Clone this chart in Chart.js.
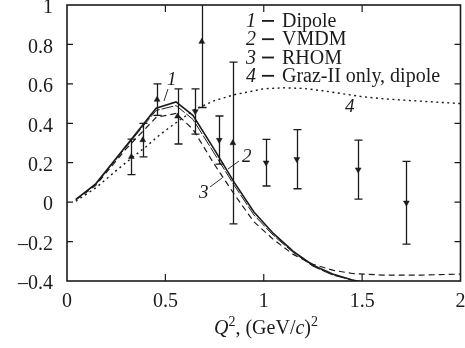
<!DOCTYPE html>
<html>
<head>
<meta charset="utf-8">
<script src="https://cdn.jsdelivr.net/npm/chart.js@4.4.0/dist/chart.umd.min.js"></script>
<style>
  html, body { margin: 0; padding: 0; background: #fff; }
  canvas { display: block; }
</style>
</head>
<body>
<canvas id="chart" width="465" height="348"></canvas>
<script>
/* ── data ── */
// curve 1: dipole
const dipoleQ2  = [0.045, 0.146, 0.30, 0.453, 0.554, 0.64, 0.75, 0.85, 0.95, 1.05, 1.15, 1.25, 1.35, 1.45, 1.5];
const dipoleVal = [0.014, 0.093, 0.285, 0.476, 0.508, 0.44, 0.265, 0.10, -0.05, -0.16, -0.25, -0.32, -0.365, -0.395, -0.405];
// curve 2: VMDM
const vmdmQ2  = [0.045, 0.146, 0.30, 0.453, 0.554, 0.64, 0.75, 0.85, 0.95, 1.05, 1.15, 1.25, 1.35, 1.45, 1.5];
const vmdmVal = [0.014, 0.09, 0.28, 0.465, 0.49, 0.42, 0.245, 0.085, -0.065, -0.17, -0.255, -0.325, -0.37, -0.395, -0.405];
// curve 3: RHOM
const rhomQ2  = [0.045, 0.146, 0.30, 0.453, 0.554, 0.64, 0.75, 0.85, 0.95, 1.05, 1.15, 1.25, 1.35, 1.45, 1.6, 1.8, 2.0];
const rhomVal = [0.012, 0.085, 0.27, 0.43, 0.45, 0.37, 0.19, 0.04, -0.10, -0.19, -0.265, -0.315, -0.345, -0.362, -0.37, -0.37, -0.365];
// curve 4: Graz-II only, dipole
const grazQ2  = [0.045, 0.15, 0.25, 0.33, 0.40, 0.47, 0.55, 0.65, 0.75, 0.85, 1.0, 1.1, 1.2, 1.3, 1.4, 1.5, 1.6, 1.75, 2.0];
const grazVal = [0.005, 0.075, 0.16, 0.225, 0.28, 0.34, 0.40, 0.47, 0.515, 0.545, 0.575, 0.58, 0.577, 0.565, 0.55, 0.535, 0.525, 0.515, 0.50];

// measured points, up triangles
const upQ2  = [0.327, 0.385, 0.458, 0.562, 0.685, 0.843];
const upVal = [0.23, 0.315, 0.52, 0.435, 0.814, 0.30];
const upErr = [0.09, 0.085, 0.08, 0.14, 0.334, 0.41];
// measured points, down triangles
const downQ2  = [0.652, 0.774, 1.012, 1.168, 1.48, 1.725];
const downVal = [0.46, 0.315, 0.20, 0.218, 0.165, -0.003];
const downErr = [0.115, 0.122, 0.118, 0.15, 0.15, 0.21];

const xTicks = [0, 0.5, 1, 1.5, 2];
const yTicks = [-0.4, -0.2, 0, 0.2, 0.4, 0.6, 0.8, 1];

const legendNums  = ["1", "2", "3", "4"];
const legendNames = ["Dipole", "VMDM", "RHOM", "Graz-II only, dipole"];

/* ── style ── */
const FONT = "'Liberation Serif', 'Times New Roman', serif";
const INK  = "#1b1b1b";

Chart.defaults.font.family = FONT;
Chart.defaults.color = INK;

const pts = (xs, ys) => xs.map((v, i) => ({ x: v, y: ys[i] }));
const fmtTick = v => String(+(+v).toFixed(1)).replace("-", "\u2013");

/* ── plugins ── */
const errorBars = {
  id: "errorBars",
  beforeDatasetsDraw(chart) {
    const { ctx, chartArea: a, scales: { x, y } } = chart;
    ctx.save();
    ctx.beginPath();
    ctx.rect(a.left, a.top, a.right - a.left, a.bottom - a.top);
    ctx.clip();
    ctx.strokeStyle = INK;
    ctx.lineWidth = 1.3;
    const draw = (qs, vs, es) => qs.forEach((q, i) => {
      const px  = Math.round(x.getPixelForValue(q)) + 0.5;
      const top = y.getPixelForValue(vs[i] + es[i]);
      const bot = y.getPixelForValue(vs[i] - es[i]);
      ctx.beginPath();
      ctx.moveTo(px, top); ctx.lineTo(px, bot);
      ctx.moveTo(px - 4, top); ctx.lineTo(px + 4, top);
      ctx.moveTo(px - 4, bot); ctx.lineTo(px + 4, bot);
      ctx.stroke();
    });
    draw(upQ2, upVal, upErr);
    draw(downQ2, downVal, downErr);
    ctx.restore();
  },
};

const frame = {
  id: "frame",
  afterDraw(chart) {
    const { ctx, chartArea: a, scales: { x, y } } = chart;
    ctx.save();
    ctx.strokeStyle = INK;
    ctx.lineWidth = 1.6;
    ctx.strokeRect(a.left, a.top, a.right - a.left, a.bottom - a.top);
    ctx.lineWidth = 1.2;
    ctx.beginPath();
    xTicks.slice(1, -1).forEach(v => {
      const px = x.getPixelForValue(v);
      ctx.moveTo(px, a.bottom); ctx.lineTo(px, a.bottom - 7);
      ctx.moveTo(px, a.top);    ctx.lineTo(px, a.top + 7);
    });
    yTicks.slice(1, -1).forEach(v => {
      const py = y.getPixelForValue(v);
      ctx.moveTo(a.left, py);  ctx.lineTo(a.left + 6, py);
      ctx.moveTo(a.right, py); ctx.lineTo(a.right - 6, py);
    });
    ctx.stroke();
    ctx.restore();
  },
};

// draws a run of [text, italic, superscript] pieces starting at x
function drawRuns(ctx, runs, x, y, size) {
  runs.forEach(([t, it, sup]) => {
    const s = sup ? Math.round(size * 0.68) : size;
    ctx.font = `${it ? "italic " : ""}${s}px ${FONT}`;
    ctx.fillText(t, x, sup ? y - size * 0.42 : y);
    x += ctx.measureText(t).width;
  });
  return x;
}
function runsWidth(ctx, runs, size) {
  let w = 0;
  runs.forEach(([t, it, sup]) => {
    const s = sup ? Math.round(size * 0.68) : size;
    ctx.font = `${it ? "italic " : ""}${s}px ${FONT}`;
    w += ctx.measureText(t).width;
  });
  return w;
}

const annotations = {
  id: "annotations",
  afterDraw(chart) {
    const { ctx } = chart;
    ctx.save();
    ctx.fillStyle = INK;
    ctx.strokeStyle = INK;
    ctx.textBaseline = "alphabetic";

    // legend block
    legendNums.forEach((n, i) => {
      const by = 27 + i * 18.3;
      ctx.font = `italic 20px ${FONT}`;
      ctx.textAlign = "right";
      ctx.fillText(n, 256, by);
      ctx.fillRect(262, by - 7, 12, 1.8);
      ctx.textAlign = "left";
      ctx.font = `20px ${FONT}`;
      ctx.fillText(legendNames[i], 282, by);
    });

    // curve labels with leaders
    ctx.font = `italic 19px ${FONT}`;
    ctx.textAlign = "left";
    ctx.fillText("1", 167, 85);
    ctx.fillText("2", 242, 162);
    ctx.fillText("3", 199, 198);
    ctx.fillText("4", 345, 112);
    ctx.lineWidth = 0.9;
    ctx.beginPath();
    ctx.moveTo(168, 89);  ctx.lineTo(164, 101);
    ctx.moveTo(239, 161); ctx.lineTo(228, 169);
    ctx.moveTo(210, 187); ctx.lineTo(222, 178);
    ctx.stroke();

    // x axis title
    const runs = [["Q", true], ["2", false, true], [", (GeV/", false], ["c", true], [")", false], ["2", false, true]];
    const w = runsWidth(ctx, runs, 20);
    drawRuns(ctx, runs, 266 - w / 2, 334, 20);
    ctx.restore();
  },
};

/* ── chart ── */
const lineSet = (label, data, extra) => Object.assign({
  label, data, type: "line", showLine: true,
  borderColor: INK, backgroundColor: INK,
  pointRadius: 0, tension: 0, fill: false,
}, extra);

new Chart(document.getElementById("chart").getContext("2d"), {
  type: "scatter",
  data: {
    datasets: [
      lineSet("Graz-II only, dipole", pts(grazQ2, grazVal), { borderWidth: 1.4, borderDash: [2, 3.5] }),
      lineSet("RHOM", pts(rhomQ2, rhomVal), { borderWidth: 1.2, borderDash: [6, 4] }),
      lineSet("VMDM", pts(vmdmQ2, vmdmVal), { borderWidth: 1, borderDash: [12, 2] }),
      lineSet("Dipole", pts(dipoleQ2, dipoleVal), { borderWidth: 1.6 }),
      {
        label: "up", data: pts(upQ2, upVal),
        pointStyle: "triangle", pointRadius: 3.4, pointRotation: 0,
        backgroundColor: INK, borderColor: INK, borderWidth: 0.5,
      },
      {
        label: "down", data: pts(downQ2, downVal),
        pointStyle: "triangle", pointRadius: 3.4, pointRotation: 180,
        backgroundColor: INK, borderColor: INK, borderWidth: 0.5,
      },
    ],
  },
  options: {
    responsive: false,
    animation: false,
    devicePixelRatio: 1,
    layout: { padding: { top: 5, right: 2, left: 0, bottom: 0 } },
    plugins: { legend: { display: false }, tooltip: { enabled: false } },
    scales: {
      x: {
        type: "linear", min: 0, max: 2,
        afterBuildTicks: s => { s.ticks = xTicks.map(v => ({ value: v })); },
        afterFit: s => { s.height = 67; s.paddingLeft = 0; s.paddingRight = 0; },
        grid: { display: false, drawTicks: false },
        border: { display: false },
        ticks: { padding: 9, color: INK, font: { family: FONT, size: 20 }, callback: fmtTick, maxRotation: 0 },
      },
      y: {
        type: "linear", min: -0.4, max: 1,
        afterBuildTicks: s => { s.ticks = yTicks.map(v => ({ value: v })); },
        afterFit: s => { s.width = 67; s.paddingTop = 0; s.paddingBottom = 0; },
        grid: { display: false, drawTicks: false },
        border: { display: false },
        ticks: { padding: 14, labelOffset: 3, color: INK, font: { family: FONT, size: 20 }, callback: fmtTick },
      },
    },
  },
  plugins: [errorBars, frame, annotations],
});
</script>
</body>
</html>
